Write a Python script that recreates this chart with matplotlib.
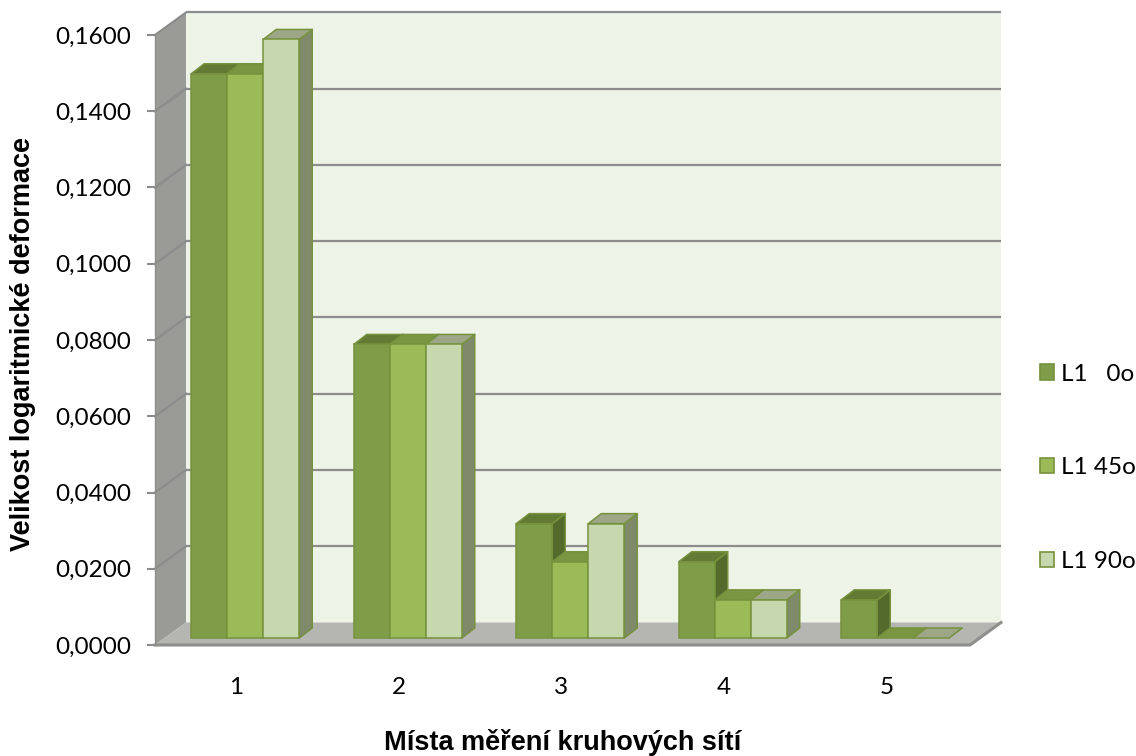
import matplotlib
matplotlib.use("Agg")
import matplotlib.pyplot as plt
from matplotlib.patches import Polygon, Rectangle

categories = ["1", "2", "3", "4", "5"]
series_names = ["L1   0o", "L1 45o", "L1 90o"]
s_0 = [0.148, 0.077, 0.030, 0.020, 0.010]
s_45 = [0.148, 0.077, 0.020, 0.010, 0.000]
s_90 = [0.157, 0.077, 0.030, 0.010, 0.000]
yticks = [0.0, 0.02, 0.04, 0.06, 0.08, 0.10, 0.12, 0.14, 0.16]

series = [s_0, s_45, s_90]
front_cols = ["#7F9C48", "#9BBB59", "#C8D8AE"]
top_cols = ["#627A33", "#7A9642", "#9DA687"]
side_cols = ["#536A2C", "#6B8338", "#7F8A6B"]
edge_col = "#76923C"
grid_col = "#8C8C8C"

W, H = 1136, 756
fig = plt.figure(figsize=(W / 100, H / 100), dpi=100)

# pixel geometry of the plot box
px_left, px_right, px_bottom, px_top = 155, 1001, 645, 12
cat_px = 162.5
val_px = 610 / 0.16
ax = fig.add_axes([px_left / W, 1 - px_bottom / H,
                   (px_right - px_left) / W, (px_bottom - px_top) / H])
xmin = 0.5
xmax = xmin + (px_right - px_left) / cat_px
ymax = (px_bottom - px_top) / val_px
ax.set_xlim(xmin, xmax)
ax.set_ylim(0, ymax)
for s in ax.spines.values():
    s.set_visible(False)
ax.patch.set_visible(False)

DX = 31 / cat_px
DY = 22.5 / val_px
top_v = yticks[-1]
x_front_right = xmax - DX

# back wall
ax.add_patch(Rectangle((xmin + DX, DY), xmax - xmin - DX, top_v, facecolor="#EEF3E8",
                       edgecolor="none", zorder=1, clip_on=False))
# left wall
ax.add_patch(Polygon([(xmin, 0), (xmin + DX, DY), (xmin + DX, top_v + DY), (xmin, top_v)],
                     closed=True, facecolor="#9A9B97", edgecolor="none", zorder=1.5, clip_on=False))
# gridlines
for v in yticks[1:]:
    ax.plot([xmin + DX, xmax], [v + DY, v + DY], color=grid_col, lw=1.6, zorder=2,
            solid_capstyle="butt", clip_on=False)
    ax.plot([xmin, xmin + DX], [v, v + DY], color=grid_col, lw=1.6, zorder=2, clip_on=False)
# floor
ax.add_patch(Polygon([(xmin, 0), (x_front_right, 0), (xmax, DY), (xmin + DX, DY)],
                     closed=True, facecolor="#B5B6B2", edgecolor="none", zorder=2.5, clip_on=False))
ax.plot([xmin, x_front_right, xmax], [0, 0, DY], color="#8E8F8C", lw=2.2, zorder=2.6,
        clip_on=False, solid_joinstyle="miter")
ax.plot([xmin, xmin], [0, top_v], color="#8E8F8C", lw=1.0, zorder=2.6, clip_on=False)

# bars
bw = 36 / cat_px
fdx = 9 / cat_px
fdy = 7 / val_px
bdx = 13 / cat_px
bdy = 10 / val_px
z = 3
for i, c in enumerate(categories):
    cx = i + 1
    for j, vals in enumerate(series):
        v = vals[i]
        x0 = cx - 1.5 * bw + fdx + j * bw
        y0 = fdy
        if v > 0:
            ax.add_patch(Polygon([(x0 + bw, y0), (x0 + bw + bdx, y0 + bdy),
                                  (x0 + bw + bdx, y0 + v + bdy), (x0 + bw, y0 + v)],
                                 closed=True, facecolor=side_cols[j], edgecolor=edge_col,
                                 lw=1.1, zorder=z, joinstyle="round"))
            z += 0.01
        ax.add_patch(Polygon([(x0, y0 + v), (x0 + bw, y0 + v), (x0 + bw + bdx, y0 + v + bdy),
                              (x0 + bdx, y0 + v + bdy)],
                             closed=True, facecolor=top_cols[j], edgecolor=edge_col,
                             lw=1.1, zorder=z, joinstyle="round"))
        z += 0.01
        if v > 0:
            ax.bar(x0, v, bottom=y0, width=bw, align="edge", color=front_cols[j],
                   edgecolor=edge_col, linewidth=1.1, zorder=z)
            z += 0.01

# ticks
ax.set_yticks(yticks)
ax.set_yticklabels([f"{t:.4f}".replace(".", ",") for t in yticks],
                   fontfamily="Lato", fontsize=17.5)
ax.tick_params(axis="y", length=6, width=1.5, color=grid_col, pad=11)
ax.set_xticks(range(1, len(categories) + 1))
ax.set_xticklabels(categories, fontfamily="Lato", fontsize=17.5)
ax.tick_params(axis="x", length=0, pad=23)

fig.text(23 / W, 1 - 344 / H, "Velikost logaritmické deformace", rotation=90,
         ha="center", va="center", fontfamily="Liberation Sans", fontweight="bold",
         fontsize=19.5)
fig.text(563 / W, 1 - 742 / H, "Místa měření kruhových sítí",
         ha="center", va="center", fontfamily="Liberation Sans", fontweight="bold",
         fontsize=19.5)

handles = [Rectangle((0, 0), 1, 1, facecolor=front_cols[j], edgecolor=edge_col, lw=1.2)
           for j in range(3)]
fig.legend(handles, series_names, loc="center left",
           bbox_to_anchor=(1040 / W, 1 - 468 / H), frameon=False,
           prop={"family": "Lato", "size": 17.5}, handlelength=0.58, handleheight=0.58,
           handletextpad=0.3, labelspacing=3.0, borderpad=0, borderaxespad=0)

fig.savefig("out.png", dpi=100)
